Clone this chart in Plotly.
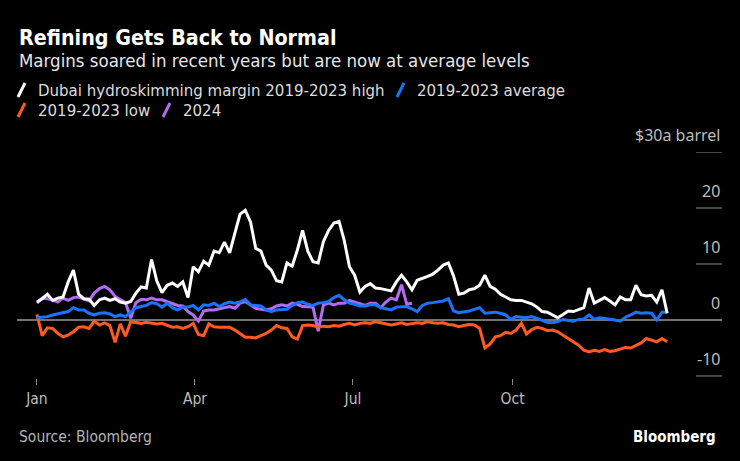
import pandas as pd
import plotly.graph_objects as go

# ---------------- data ----------------
start_date = "2024-01-01"
step = "3D"

high_2019_2023 = [3.2, 3.8, 4.6, 3.5, 3.9, 4.1, 6.8, 8.9, 4.6, 3.8, 3.7, 2.6, 3.6, 3.9, 3.5, 3.8,
                  3.2, 3.0, 3.3, 4.8, 5.9, 5.7, 10.8, 7.0, 4.9, 6.2, 6.6, 6.0, 6.8, 4.0, 9.5, 8.6,
                  10.5, 9.8, 12.3, 12.0, 13.9, 12.0, 15.5, 18.9, 19.6, 17.5, 12.8, 12.3, 9.8, 8.9,
                  7.0, 6.8, 10.2, 9.6, 12.5, 16.0, 12.3, 10.4, 10.2, 14.0, 16.0, 17.3, 17.6, 14.2,
                  9.5, 8.0, 5.0, 6.0, 6.5, 5.7, 5.6, 5.4, 5.2, 6.8, 8.0, 6.8, 5.4, 7.1, 7.4, 7.8,
                  8.2, 8.9, 9.8, 10.2, 7.8, 4.6, 4.8, 5.4, 5.6, 6.2, 8.0, 6.0, 5.5, 4.6, 4.1, 3.6,
                  3.5, 3.5, 3.2, 2.9, 2.3, 1.5, 1.4, 0.9, 0.4, 1.0, 1.6, 1.5, 1.8, 2.2, 5.7, 3.0,
                  3.5, 4.0, 3.4, 2.7, 4.1, 3.6, 3.6, 6.2, 4.5, 4.3, 4.4, 3.2, 5.4, 1.2]

avg_2019_2023 = [0.4, 0.5, 0.6, 0.9, 1.1, 1.3, 1.5, 2.2, 1.8, 1.8, 1.2, 0.9, 1.2, 1.3, 1.1, 0.6,
                 0.9, 0.6, 1.4, 2.2, 2.4, 2.6, 3.1, 2.9, 2.3, 3.0, 2.2, 1.8, 2.3, 2.3, 2.6, 1.8,
                 2.7, 2.6, 3.0, 2.4, 2.9, 3.2, 3.0, 3.2, 3.7, 2.7, 2.6, 2.5, 1.8, 1.5, 1.8, 1.8,
                 1.9, 2.6, 3.1, 3.2, 2.8, 2.6, 3.0, 3.1, 3.3, 4.0, 4.4, 3.6, 3.0, 2.8, 2.5, 2.5,
                 2.7, 2.7, 2.2, 2.0, 1.8, 2.3, 2.4, 2.4, 2.0, 1.5, 2.6, 3.0, 3.1, 3.2, 3.4, 3.8,
                 1.6, 1.3, 1.4, 1.6, 1.9, 2.2, 1.2, 1.3, 1.4, 1.2, 0.9, 0.1, 0.6, 0.5, 0.4, 0.6,
                 0.3, 0.0, -0.4, -0.5, -0.3, 0.1, -0.1, -0.2, 0.1, 0.2, 0.9, 0.1, 0.4, 0.3, 0.1,
                 0.0, -0.2, 0.5, 0.9, 1.4, 1.2, 1.3, 1.2, 0.0, 1.4, 1.4]

low_2019_2023 = [1.0, -2.8, -1.4, -1.5, -2.4, -3.0, -2.7, -2.1, -1.3, -1.2, -1.5, -0.2, -0.9, -0.5,
                 -1.0, -4.0, -0.7, -2.9, -0.3, -0.4, -0.6, -0.4, -0.5, -0.7, -0.6, -1.0, -1.3, -1.2,
                 -1.5, -1.2, -0.6, -2.6, -2.8, -0.7, -1.2, -1.3, -1.3, -1.3, -1.8, -2.4, -3.1, -3.1,
                 -3.2, -2.8, -2.4, -1.8, -1.0, -1.4, -1.5, -3.0, -3.4, -1.0, -0.9, -1.0, -1.3, -1.1,
                 -1.2, -1.0, -1.1, -0.8, -0.6, -0.9, -0.6, -0.5, -0.6, -0.3, -0.5, -0.8, -0.9, -0.7,
                 -0.5, -0.8, -0.7, -0.5, -0.6, -0.3, -0.5, -0.6, -0.5, -0.8, -0.9, -1.2, -1.0, -0.8,
                 -0.9, -1.5, -5.0, -4.3, -3.0, -2.8, -2.2, -2.4, -1.8, -0.6, -2.5, -1.7, -1.3, -1.5,
                 -1.9, -1.8, -2.1, -2.7, -3.3, -4.0, -4.5, -5.4, -5.7, -5.4, -5.6, -5.3, -5.6, -5.5,
                 -5.2, -4.9, -5.0, -4.5, -4.1, -3.3, -3.6, -3.9, -3.3, -3.9]

y2024 = [3.0, 3.9, 3.8, 3.6, 3.2, 3.9, 3.5, 4.0, 4.1, 3.8, 3.4, 4.8, 5.6, 6.0, 5.4, 4.2, 3.6, 3.1,
         0.3, 3.1, 3.7, 3.6, 3.9, 3.6, 3.6, 3.3, 3.0, 2.6, 2.5, 1.5, 0.9, -0.2, 1.6, 1.8, 1.8, 2.0,
         2.2, 2.4, 2.1, 3.0, 3.3, 2.7, 2.1, 1.9, 1.8, 2.0, 2.5, 2.7, 2.5, 3.0, 2.8, 2.4, 2.3, 2.3,
         -2.0, 2.7, 3.0, 2.7, 3.0, 3.0, 3.5, 3.2, 2.8, 2.6, 3.0, 3.0, 2.2, 3.2, 3.9, 3.6, 6.3, 2.8,
         3.0]

month_ticks = ["2024-01-01", "2024-04-01", "2024-07-01", "2024-10-01"]
month_labels = ["Jan", "Apr", "Jul", "Oct"]
y_ticks = [30, 20, 10, 0, -10]
y_tick_labels = ["$30a barrel", "20", "10", "0", "-10"]

series_names = ["Dubai hydroskimming margin 2019-2023 high", "2019-2023 average",
                "2019-2023 low", "2024"]

# ---------------- styling ----------------
W, H = 740, 461
L, R, T, B = 17, 18, 152, 83
FONT = "DejaVu Sans Condensed"
C_HIGH, C_AVG, C_LOW, C_2024 = "#ffffff", "#1a73ff", "#ff5a1f", "#b36bf2"
GREY = "#8c8c8c"


def px_x(px):
    return (px - L) / (W - L - R)


def px_y(py):
    return (H - B - py) / (H - T - B)


dates_full = pd.date_range(start_date, periods=len(high_2019_2023), freq=step)
dates_2024 = pd.date_range(start_date, periods=len(y2024), freq=step)

fig = go.Figure()
fig.add_trace(go.Scatter(x=dates_2024, y=y2024, mode="lines", name=series_names[3],
                         line=dict(color=C_2024, width=3)))
fig.add_trace(go.Scatter(x=dates_full, y=low_2019_2023, mode="lines", name=series_names[2],
                         line=dict(color=C_LOW, width=3)))
fig.add_trace(go.Scatter(x=dates_full, y=avg_2019_2023, mode="lines", name=series_names[1],
                         line=dict(color=C_AVG, width=3)))
fig.add_trace(go.Scatter(x=dates_full, y=high_2019_2023, mode="lines", name=series_names[0],
                         line=dict(color=C_HIGH, width=3)))

shapes = []
annotations = []

# zero line across the whole plot, short grid stubs for the others
for v, lab in zip(y_ticks, y_tick_labels):
    if v == 0:
        shapes.append(dict(type="line", xref="paper", yref="y", x0=0, x1=1, y0=v, y1=v,
                           line=dict(color="#9a9a9a", width=1.5), layer="below"))
    else:
        shapes.append(dict(type="line", xref="paper", yref="y", x0=px_x(696), x1=1, y0=v, y1=v,
                           line=dict(color=GREY, width=1)))
    annotations.append(dict(xref="paper", yref="y", x=1, y=v, xanchor="right", yanchor="bottom",
                            yshift=4, text=lab, showarrow=False,
                            font=dict(family="Noto Sans", size=16, color="#bdbdbd")))

# title / subtitle
annotations.append(dict(xref="paper", yref="paper", x=0, y=px_y(37), xanchor="left",
                        yanchor="middle", text="<b>Refining Gets Back to Normal</b>",
                        showarrow=False, font=dict(family=FONT, size=21.3, color="#ffffff")))
annotations.append(dict(xref="paper", yref="paper", x=0, y=px_y(61), xanchor="left",
                        yanchor="middle",
                        text="Margins soared in recent years but are now at average levels",
                        showarrow=False, font=dict(family=FONT, size=18.5, color="#e6e6e6")))

# legend (custom, two rows)
legend_items = [
    (series_names[0], C_HIGH, 17, 90),
    (series_names[1], C_AVG, 396, 90),
    (series_names[2], C_LOW, 17, 110),
    (series_names[3], C_2024, 162, 110),
]
for name, col, lx, ly in legend_items:
    shapes.append(dict(type="line", xref="paper", yref="paper",
                       x0=px_x(lx + 1), x1=px_x(lx + 8), y0=px_y(ly + 7), y1=px_y(ly - 7),
                       line=dict(color=col, width=3)))
    annotations.append(dict(xref="paper", yref="paper", x=px_x(lx + 19), y=px_y(ly),
                            xanchor="left", yanchor="middle", text=name, showarrow=False,
                            font=dict(family=FONT, size=16.7, color="#dcdcdc")))

# footer
annotations.append(dict(xref="paper", yref="paper", x=0, y=px_y(437), xanchor="left",
                        yanchor="middle", text="Source: Bloomberg", showarrow=False,
                        font=dict(family=FONT, size=15.5, color="#b4b4b4")))
annotations.append(dict(xref="paper", yref="paper", x=px_x(718), y=px_y(437), xanchor="right",
                        yanchor="middle", text="<b>Bloomberg</b>", showarrow=False,
                        font=dict(family=FONT, size=15, color="#ffffff")))

fig.update_layout(
    width=W, height=H,
    margin=dict(l=L, r=R, t=T, b=B, pad=0),
    paper_bgcolor="#000000", plot_bgcolor="#000000",
    showlegend=False,
    shapes=shapes, annotations=annotations,
    xaxis=dict(range=["2023-12-20 12:00", "2025-01-29 14:00"], showgrid=False, zeroline=False,
               showline=False, tickmode="array", tickvals=month_ticks, ticktext=month_labels,
               ticks="outside", ticklen=6, tickwidth=1, tickcolor=GREY,
               tickfont=dict(family=FONT, size=15.5, color="#bdbdbd")),
    yaxis=dict(range=[-10.36, 30], showgrid=False, zeroline=False, showline=False,
               showticklabels=False, ticks=""),
)

fig.write_html("out.html",
               config={"displayModeBar": False},
               post_script="document.body.style.margin='0';"
                           "document.body.style.background='#000000';")
